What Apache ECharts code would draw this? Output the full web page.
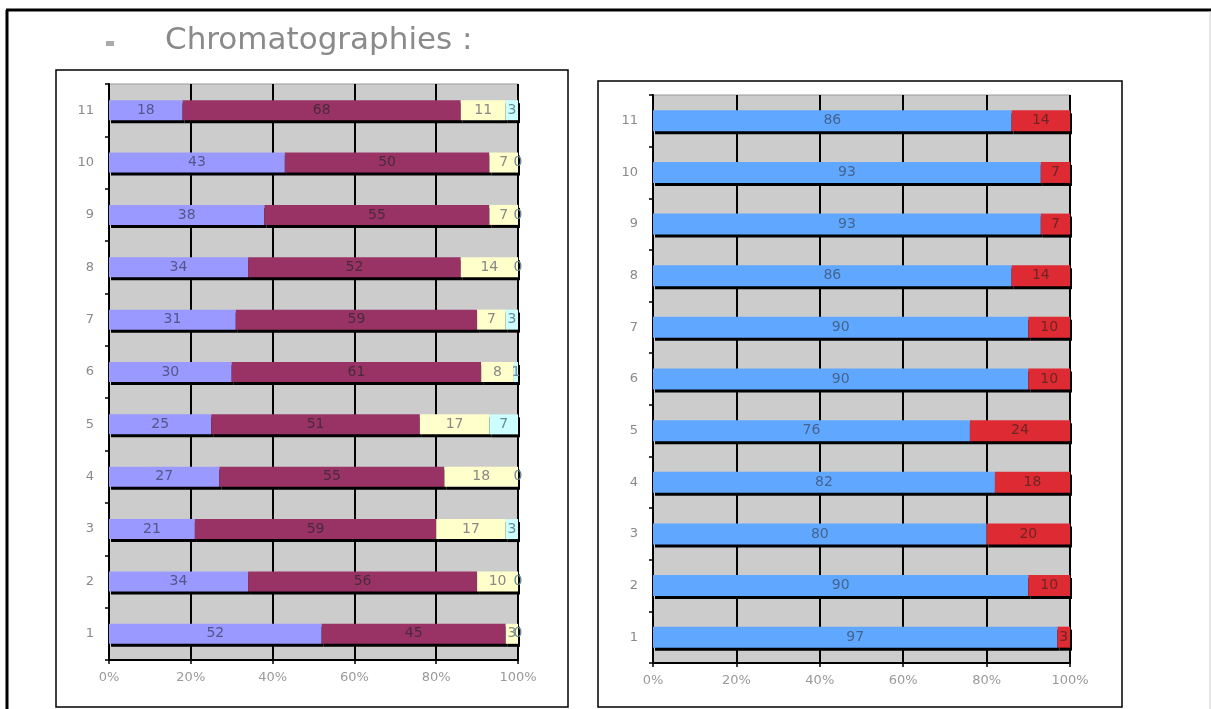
<!DOCTYPE html>
<html>
<head>
<meta charset="utf-8">
<script src="https://cdn.jsdelivr.net/npm/echarts@6/dist/echarts.min.js"></script>
<style>html,body{margin:0;padding:0;background:#fff;}#c{width:1211px;height:709px;}</style>
</head>
<body>
<div id="c"></div>
<script>
var categories = ['1','2','3','4','5','6','7','8','9','10','11'];
var xTicks = [0, 20, 40, 60, 80, 100];
// Left chart (4 segments)
var leftA = [52, 34, 21, 27, 25, 30, 31, 34, 38, 43, 18];
var leftB = [45, 56, 59, 55, 51, 61, 59, 52, 55, 50, 68];
var leftC = [3, 10, 17, 18, 17, 8, 7, 14, 7, 7, 11];
var leftD = [0, 0, 3, 0, 7, 1, 3, 0, 0, 0, 3];
// Right chart (2 segments)
var rightA = [97, 90, 80, 82, 76, 90, 90, 86, 93, 93, 86];
var rightB = [3, 10, 20, 18, 24, 10, 10, 14, 7, 7, 14];
var titleText = 'Chromatographies :';

var chart = echarts.init(document.getElementById('c'));
var FONT = 'DejaVu Sans';

function xAxisCfg(gi) {
  return {
    type: 'value', gridIndex: gi, min: xTicks[0], max: xTicks[xTicks.length - 1], interval: xTicks[1] - xTicks[0],
    axisLine: {show: true, lineStyle: {color: '#000', width: 2}},
    axisTick: {show: true, length: 4, lineStyle: {color: '#000', width: 1.5}},
    axisLabel: {formatter: '{value}%', color: '#9a9a9a', fontSize: 13, fontFamily: FONT, margin: 11},
    splitLine: {show: true, lineStyle: {color: '#000', width: 2}}
  };
}
function yAxisCfg(gi, margin) {
  return {
    type: 'category', gridIndex: gi, data: categories,
    axisLine: {show: true, lineStyle: {color: '#000', width: 2}},
    axisTick: {show: true, length: 4, lineStyle: {color: '#000', width: 1.5}},
    axisLabel: {color: '#8a8a8a', fontSize: 13, fontFamily: FONT, margin: margin},
    splitLine: {show: false}
  };
}
function barSeries(name, data, gi, stack, color, labelColor, width) {
  return {
    name: name, type: 'bar', xAxisIndex: gi, yAxisIndex: gi, stack: stack,
    data: data, barWidth: width,
    itemStyle: {color: color, shadowColor: '#000', shadowOffsetX: 2, shadowOffsetY: 3, shadowBlur: 0},
    label: {show: true, position: 'inside', color: labelColor, fontSize: 14, fontFamily: FONT},
    silent: true, animation: false
  };
}

chart.setOption({
  animation: false,
  grid: [
    {left: 109, top: 84, width: 409, height: 576, show: true, backgroundColor: '#cccccc', borderColor: '#999', borderWidth: 1},
    {left: 653, top: 95, width: 417, height: 568, show: true, backgroundColor: '#cccccc', borderColor: '#999', borderWidth: 1}
  ],
  xAxis: [xAxisCfg(0), xAxisCfg(1)],
  yAxis: [yAxisCfg(0, 15), yAxisCfg(1, 15)],
  series: [
    barSeries('A', leftA, 0, 'L', '#9999ff', '#55558c', 20),
    barSeries('B', leftB, 0, 'L', '#993366', '#4a2a3c', 20),
    barSeries('C', leftC, 0, 'L', '#ffffcc', '#888', 20),
    barSeries('D', leftD, 0, 'L', '#ccffff', '#6a8a99', 20),
    barSeries('E', rightA, 1, 'R', '#60a8ff', '#44648f', 21),
    barSeries('F', rightB, 1, 'R', '#de2a32', '#702424', 21)
  ],
  graphic: [
    {type: 'line', shape: {x1: 6, y1: 10, x2: 1211, y2: 10}, style: {stroke: '#000', lineWidth: 3}, silent: true},
    {type: 'line', shape: {x1: 7, y1: 10, x2: 7, y2: 709}, style: {stroke: '#000', lineWidth: 3}, silent: true},
    {type: 'line', shape: {x1: 1210, y1: 11, x2: 1210, y2: 709}, style: {stroke: '#ccc', lineWidth: 1}, silent: true},
    {type: 'rect', shape: {x: 56, y: 70, width: 512, height: 637}, style: {fill: 'none', stroke: '#000', lineWidth: 1.5}, silent: true, z: -10},
    {type: 'rect', shape: {x: 598, y: 81, width: 524, height: 626}, style: {fill: 'none', stroke: '#000', lineWidth: 1.5}, silent: true, z: -10},
    {type: 'rect', shape: {x: 106, y: 41, width: 8, height: 5}, style: {fill: '#aaa'}, silent: true},
    {type: 'text', x: 165, y: 41, style: {text: titleText, fill: '#8a8a8a', font: '31px DejaVu Sans', textVerticalAlign: 'middle'}, silent: true}
  ]
});
</script>
</body>
</html>
